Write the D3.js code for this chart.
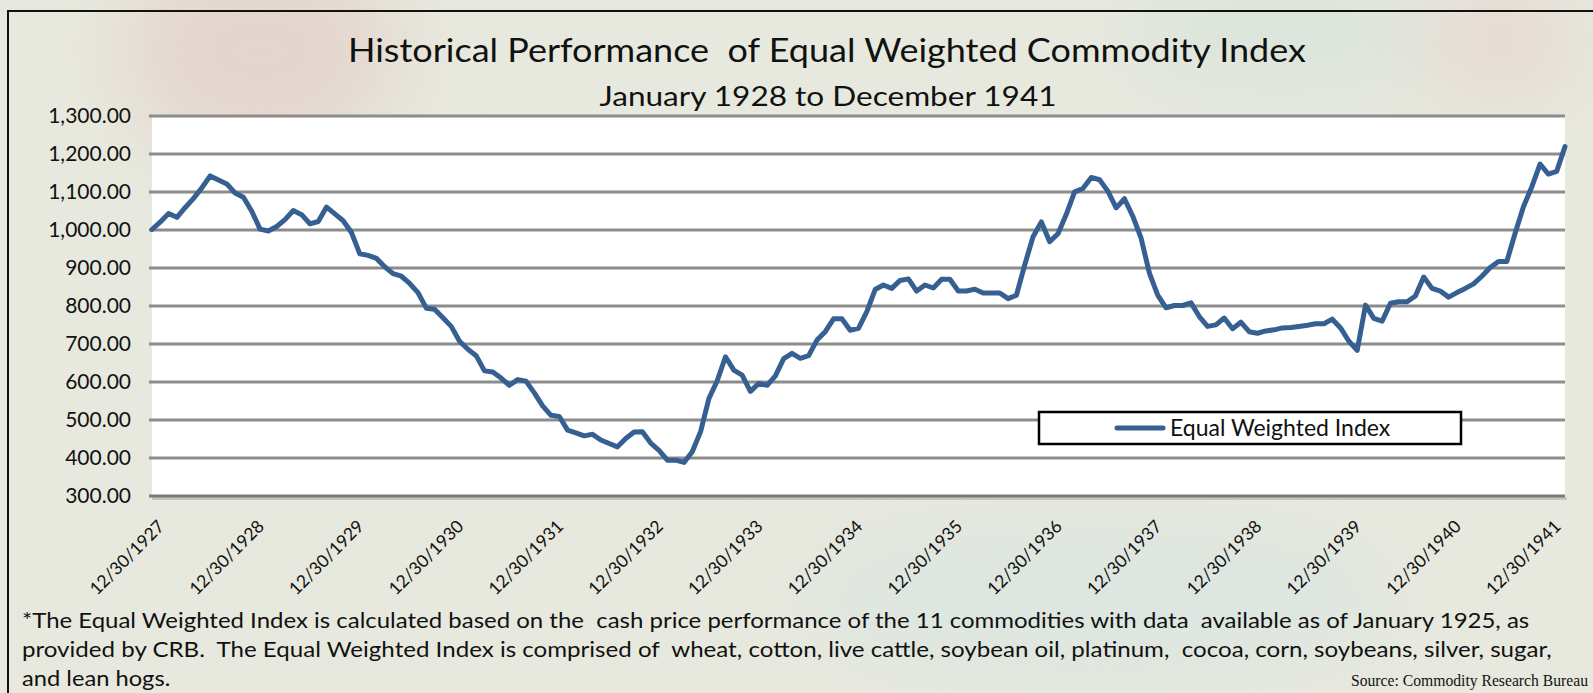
<!DOCTYPE html>
<html>
<head>
<meta charset="utf-8">
<script src="https://cdn.jsdelivr.net/npm/d3@7/dist/d3.min.js"></script>
<style>
  body { margin: 0; background: #e8e9de; overflow: hidden; }
  svg { display: block; }
  text { font-family: Lato, "Open Sans", sans-serif; fill: #111; }
</style>
</head>
<body>
<svg></svg>
<script>
// Monthly index values, 12/30/1927 onwards
const indexValues = [
    1000, 1020, 1042, 1032, 1058, 1082, 1110, 1141, 1130, 1120, 1096, 1085,
    1048, 1001, 996, 1008, 1026, 1050, 1039, 1015, 1021, 1059, 1041, 1023,
    992, 936, 932, 924, 902, 884, 877, 858, 834, 793, 790, 768,
    745, 706, 685, 668, 628, 625, 609, 590, 605, 601, 570, 536,
    511, 508, 472, 465, 457, 461, 446, 437, 428, 450, 467, 468,
    438, 419, 393, 393, 387, 415, 468, 555, 602, 665, 630, 617,
    574, 595, 590, 615, 660, 674, 661, 668, 709, 731, 765, 765,
    735, 740, 784, 842, 854, 845, 866, 870, 838, 854, 846, 869,
    869, 838, 838, 843, 833, 833, 833, 818, 827, 907, 981, 1020,
    968, 989, 1040, 1099, 1108, 1137, 1131, 1101, 1057, 1081, 1035, 977,
    885, 827, 794, 800, 800, 807, 771, 745, 749, 767, 739, 756,
    731, 727, 733, 736, 741, 742, 745, 748, 752, 752, 764, 741,
    706, 682, 801, 766, 759, 806, 810, 810, 825, 875, 845, 838,
    822, 834, 845, 857, 877, 900, 916, 916, 990, 1060, 1112, 1172,
    1146, 1153, 1218
];

// Category labels, one every 12 months
const tickLabels = [
    "12/30/1927", "12/30/1928", "12/30/1929", "12/30/1930", "12/30/1931",
    "12/30/1932", "12/30/1933", "12/30/1934", "12/30/1935", "12/30/1936",
    "12/30/1937", "12/30/1938", "12/30/1939", "12/30/1940", "12/30/1941"
];

const yTicks = [300, 400, 500, 600, 700, 800, 900, 1000, 1100, 1200, 1300];

const seriesName = "Equal Weighted Index";
const titleText = "Historical Performance  of Equal Weighted Commodity Index";
const subtitleText = "January 1928 to December 1941";
const noteLines = [
    "*The Equal Weighted Index is calculated based on the  cash price performance of the 11 commodities with data  available as of January 1925, as",
    "provided by CRB.  The Equal Weighted Index is comprised of  wheat, cotton, live cattle, soybean oil, platinum,  cocoa, corn, soybeans, silver, sugar,",
    "and lean hogs."
];
const noteWidths = [1335, 1355, null]; // widths of the long lines, before the stretch
const sourceText = "Source: Commodity Research Bureau";

document.addEventListener("DOMContentLoaded", function() {
    const width = 1593;
    const height = 693;
    const svg = d3.select("svg")
        .attr("width", width)
        .attr("height", height);

    drawBackground(svg, width, height);
    drawChart(svg);
    drawTexts(svg);
});

// Soft map-like backdrop and the outer frame
function drawBackground(svg, width, height) {
    const defs = svg.append("defs");
    defs.append("filter").attr("id", "soft")
        .attr("x", "-50%").attr("y", "-50%").attr("width", "200%").attr("height", "200%")
        .append("feGaussianBlur").attr("stdDeviation", 40);

    svg.append("rect")
        .attr("width", width).attr("height", height)
        .attr("fill", "#e8e9de");

    const blobs = svg.append("g").attr("filter", "url(#soft)");
    blobs.append("ellipse").attr("cx", 260).attr("cy", 50).attr("rx", 140).attr("ry", 110)
        .attr("fill", "#e4d6ce");
    blobs.append("ellipse").attr("cx", 1280).attr("cy", 30).attr("rx", 160).attr("ry", 60)
        .attr("fill", "#dbe5dc");
    blobs.append("ellipse").attr("cx", 1100).attr("cy", 600).attr("rx", 300).attr("ry", 80)
        .attr("fill", "#dde6e0");
    blobs.append("ellipse").attr("cx", 1500).attr("cy", 40).attr("rx", 80).attr("ry", 60)
        .attr("fill", "#e6d9d2");

    // outer frame (only left and top edges are inside the picture)
    svg.append("rect")
        .attr("x", 8).attr("y", 11)
        .attr("width", 1640).attr("height", 720)
        .attr("fill", "none")
        .attr("stroke", "#111")
        .attr("stroke-width", 2);
}

function drawChart(svg) {
    const left = 152, right = 1565;
    const top = 115.5, bottom = 495.5;

    const x = d3.scaleLinear()
        .domain([0, indexValues.length - 1])
        .range([left, right]);
    const y = d3.scaleLinear()
        .domain([300, 1300])
        .range([bottom, top]);

    // white plot area
    svg.append("rect")
        .attr("x", left).attr("y", top)
        .attr("width", right - left).attr("height", bottom - top)
        .attr("fill", "#fff");

    // shadow under the category axis
    svg.append("line")
        .attr("x1", left).attr("x2", right + 2)
        .attr("y1", bottom + 3).attr("y2", bottom + 3)
        .attr("stroke", "#c4c6bc").attr("stroke-width", 3);

    // value axis with gridlines
    const yAxis = svg.append("g")
        .attr("transform", `translate(${left},0)`)
        .call(d3.axisLeft(y)
            .tickValues(yTicks)
            .tickFormat(d3.format(",.2f"))
            .tickSizeInner(-(right - left))
            .tickSizeOuter(0)
            .tickPadding(21));
    yAxis.select(".domain").remove();
    yAxis.selectAll(".tick line")
        .attr("x1", -3)
        .attr("stroke", d => d === 300 ? "#7a7a7a" : "#8c8c8c")
        .attr("stroke-width", 3);
    yAxis.selectAll(".tick text")
        .style("font-size", "21px")
        .attr("fill", "#111");

    // category axis, rotated labels
    const xAxis = svg.append("g")
        .attr("transform", `translate(0,${bottom})`)
        .call(d3.axisBottom(x)
            .tickValues(tickLabels.map((d, i) => i * 12))
            .tickFormat((d, i) => tickLabels[i])
            .tickSize(0));
    xAxis.select(".domain").remove();
    xAxis.selectAll(".tick text")
        .attr("x", 0).attr("y", 0).attr("dy", 0)
        .attr("text-anchor", "end")
        .attr("transform", "translate(13,32) rotate(-45)")
        .style("font-size", "17.5px")
        .attr("fill", "#111");

    // the index line
    const line = d3.line()
        .x((d, i) => x(i))
        .y(d => y(d));
    svg.append("path")
        .datum(indexValues)
        .attr("d", line)
        .attr("fill", "none")
        .attr("stroke", "#365f92")
        .attr("stroke-width", 5)
        .attr("stroke-linejoin", "round")
        .attr("stroke-linecap", "round");

    // legend box
    const legend = svg.append("g").attr("transform", "translate(1039,412)");
    legend.append("rect")
        .attr("width", 422).attr("height", 32)
        .attr("fill", "#fff")
        .attr("stroke", "#000")
        .attr("stroke-width", 2.5);
    legend.append("line")
        .attr("x1", 78).attr("x2", 124)
        .attr("y1", 16).attr("y2", 16)
        .attr("stroke", "#365f92")
        .attr("stroke-width", 5)
        .attr("stroke-linecap", "round");
    legend.append("text")
        .attr("x", 131).attr("y", 16)
        .attr("dy", "0.35em")
        .style("font-size", "23px")
        .text(seriesName);
}

// Title, subtitle, footnote and source
function drawTexts(svg) {
    svg.append("text")
        .attr("x", 827).attr("y", 62)
        .attr("text-anchor", "middle")
        .attr("textLength", 958)
        .attr("lengthAdjust", "spacingAndGlyphs")
        .style("font-size", "32px")
        .style("white-space", "pre")
        .text(titleText);

    svg.append("text")
        .attr("x", 828).attr("y", 106)
        .attr("text-anchor", "middle")
        .attr("textLength", 457)
        .attr("lengthAdjust", "spacingAndGlyphs")
        .style("font-size", "27px")
        .text(subtitleText);

    // footnote is set wide, like the original
    const notes = svg.append("g")
        .attr("transform", "translate(22,0) scale(1.129,1)");
    notes.selectAll(".note")
        .data(noteLines)
        .enter()
        .append("text")
        .attr("class", "note")
        .attr("x", 0)
        .attr("y", (d, i) => 628 + i * 29)
        .attr("textLength", (d, i) => noteWidths[i])
        .attr("lengthAdjust", "spacingAndGlyphs")
        .style("font-size", "21px")
        .style("white-space", "pre")
        .text(d => d);

    svg.append("text")
        .attr("x", 1588).attr("y", 686)
        .attr("text-anchor", "end")
        .attr("textLength", 237)
        .attr("lengthAdjust", "spacingAndGlyphs")
        .style("font-family", "'Liberation Serif', serif")
        .style("font-size", "16px")
        .text(sourceText);
}
</script>
</body>
</html>
